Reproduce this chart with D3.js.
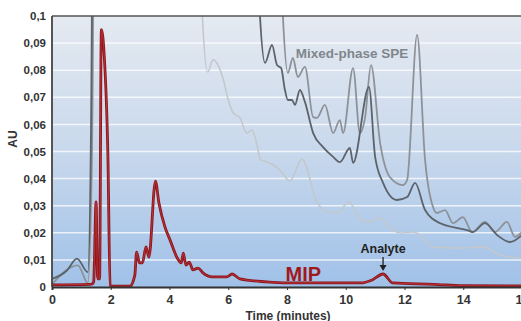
<!DOCTYPE html>
<html>
<head>
<meta charset="utf-8">
<script src="https://cdn.jsdelivr.net/npm/d3@7"></script>
<style>
  body { margin: 0; background: #fff; }
  svg text { font-family: "Liberation Sans", Arial, sans-serif; font-weight: bold; }
</style>
</head>
<body>
<svg id="canvas" width="521" height="321"></svg>
<script>
// tick values and labels
const xTicks = [0, 2, 4, 6, 8, 10, 12, 14, 16];
const yTicks = [0, 0.01, 0.02, 0.03, 0.04, 0.05, 0.06, 0.07, 0.08, 0.09, 0.1];
const yTickLabels = ["0", "0,01", "0,02", "0,03", "0,04", "0,05", "0,06", "0,07", "0,08", "0,09", "0,1"];

// MIP trace (time in minutes, AU)
const mipTime = [0, 1.3, 1.38, 1.42, 1.5, 1.55, 1.58, 1.62, 1.68, 1.78, 1.9, 1.98, 2.05, 2.65, 2.82, 2.88, 2.98, 3.08, 3.2, 3.3, 3.52, 3.64, 3.85, 4.02, 4.25, 4.4, 4.47, 4.56, 4.67, 4.8, 4.97, 5.14, 5.45, 5.95, 6.13, 6.4, 7.3, 8, 10.5, 10.9, 11.27, 11.6, 13, 14, 16];
const mipAU = [0.0008, 0.001, 0.0012, 0.002, 0.0314, 0.004, 0.003, 0.003, 0.095, 0.085, 0.05, 0.0005, 0.0003, 0.0003, 0.0044, 0.0129, 0.0089, 0.0089, 0.0148, 0.011, 0.0391, 0.031, 0.022, 0.0173, 0.011, 0.0089, 0.0125, 0.0081, 0.0092, 0.0063, 0.007, 0.0052, 0.0037, 0.0037, 0.0048, 0.003, 0.0019, 0.0015, 0.0015, 0.0026, 0.0048, 0.0015, 0.001, 0.0005, 0.0004];

// mixed-phase SPE traces
const lightTime = [0, 1.3, 1.36, 1.46, 5.0, 5.12, 5.3, 5.48, 5.82, 6.0, 6.17, 6.4, 6.63, 6.81, 6.98, 7.1, 7.33, 7.76, 8.1, 8.51, 9.02, 9.36, 9.7, 10.11, 10.5, 10.83, 11.13, 11.6, 11.85, 12.29, 12.42, 12.97, 13.79, 14.67, 15.25, 16];
const lightAU = [0.0005, 0.001, 0.04, 0.15, 0.15, 0.1, 0.0793, 0.0838, 0.077, 0.069, 0.0642, 0.0624, 0.0568, 0.0579, 0.0524, 0.0469, 0.0461, 0.0432, 0.0391, 0.0472, 0.0314, 0.0277, 0.0273, 0.0314, 0.0247, 0.024, 0.0255, 0.021, 0.0199, 0.0203, 0.0199, 0.0148, 0.0144, 0.0148, 0.0118, 0.0106];

const midTime = [0, 0.88, 1.22, 1.36, 1.44, 7.7, 7.86, 8.03, 8.2, 8.37, 8.61, 8.89, 9.02, 9.29, 9.57, 9.8, 9.91, 10.25, 10.48, 10.66, 10.86, 11.17, 11.5, 11.95, 12.09, 12.43, 12.7, 12.97, 13.1, 13.38, 13.65, 13.99, 14.3, 14.74, 15.08, 15.49, 15.76, 16];
const midAU = [0.001, 0.008, 0.0015, 0.05, 0.15, 0.15, 0.1, 0.079, 0.0845, 0.0775, 0.0812, 0.0627, 0.0624, 0.0672, 0.0568, 0.0616, 0.0568, 0.0808, 0.0568, 0.0627, 0.0819, 0.0531, 0.0406, 0.0376, 0.0395, 0.093, 0.0469, 0.0295, 0.0273, 0.0284, 0.0236, 0.0258, 0.0203, 0.024, 0.0203, 0.024, 0.0185, 0.0203];

const darkTime = [0, 0.5, 0.85, 1.22, 1.33, 1.4, 6.9, 7.08, 7.25, 7.49, 7.66, 7.8, 7.93, 8.03, 8.17, 8.27, 8.44, 8.61, 8.89, 9.22, 9.57, 9.8, 10.14, 10.25, 10.79, 11.0, 11.27, 11.74, 12.09, 12.36, 12.7, 13.2, 14.13, 14.33, 14.74, 15.15, 15.59, 16];
const darkAU = [0.003, 0.006, 0.0105, 0.0055, 0.06, 0.15, 0.15, 0.1, 0.0827, 0.0893, 0.0819, 0.0808, 0.0727, 0.069, 0.069, 0.0672, 0.0727, 0.0683, 0.0568, 0.0517, 0.048, 0.0461, 0.0513, 0.0458, 0.0738, 0.048, 0.0384, 0.0321, 0.0332, 0.0384, 0.0284, 0.0236, 0.021, 0.0203, 0.0236, 0.0192, 0.0166, 0.0192];

const svg = d3.select("svg#canvas");
const mLeft = 52, mRight = 521, mTop = 16, mBottom = 287;

const x = d3.scaleLinear().domain([0, 16]).range([mLeft, 522]);
const y = d3.scaleLinear().domain([0, 0.1]).range([mBottom, mTop]);

const defs = svg.append("defs");
const grad = defs.append("linearGradient").attr("id", "bg").attr("x1", 0).attr("y1", 0).attr("x2", 0).attr("y2", 1);
grad.append("stop").attr("offset", "0%").attr("stop-color", "#e5eaf1");
grad.append("stop").attr("offset", "50%").attr("stop-color", "#c8d8ec");
grad.append("stop").attr("offset", "100%").attr("stop-color", "#a0c1e8");
defs.append("clipPath").attr("id", "plot")
  .append("rect").attr("x", mLeft).attr("y", mTop).attr("width", mRight - mLeft).attr("height", mBottom - mTop);

svg.append("rect")
  .attr("x", mLeft).attr("y", mTop)
  .attr("width", mRight - mLeft).attr("height", mBottom - mTop)
  .attr("fill", "url(#bg)");

// white grid lines
svg.append("g")
  .selectAll("line")
  .data(yTicks.filter((d) => d > 0 && d < 0.1))
  .enter()
  .append("line")
  .attr("x1", mLeft).attr("x2", mRight)
  .attr("y1", (d) => y(d)).attr("y2", (d) => y(d))
  .attr("stroke", "#fff").attr("stroke-opacity", 0.75).attr("stroke-width", 1.5);

const line = d3.line()
  .x((d) => x(d[0]))
  .y((d) => y(d[1]))
  .curve(d3.curveMonotoneX);

const traces = [
  { t: lightTime, v: lightAU, color: "#c3c8cd", w: 1.6 },
  { t: midTime, v: midAU, color: "#8d9298", w: 1.8 },
  { t: darkTime, v: darkAU, color: "#5c636a", w: 1.8 },
];

const plot = svg.append("g").attr("clip-path", "url(#plot)");

traces.forEach((tr) => {
  plot.append("path")
    .datum(tr.t.map((t, i) => [t, tr.v[i]]))
    .attr("fill", "none")
    .attr("stroke", tr.color)
    .attr("stroke-width", tr.w)
    .attr("stroke-linejoin", "round")
    .attr("d", line);
});

// MIP trace: dark red with lighter core
const mip = mipTime.map((t, i) => [t, mipAU[i]]);
plot.append("path").datum(mip)
  .attr("fill", "none").attr("stroke", "#8a161c").attr("stroke-width", 2.8)
  .attr("stroke-linejoin", "round").attr("d", line);
plot.append("path").datum(mip)
  .attr("fill", "none").attr("stroke", "#c0343b").attr("stroke-width", 0.9)
  .attr("stroke-linejoin", "round").attr("d", line);

// frame
svg.append("line").attr("x1", mLeft).attr("x2", mRight).attr("y1", mTop).attr("y2", mTop)
  .attr("stroke", "#555").attr("stroke-width", 1.5);
svg.append("line").attr("x1", mLeft).attr("x2", mLeft).attr("y1", mTop).attr("y2", mBottom)
  .attr("stroke", "#444").attr("stroke-width", 1.8);

// axes
const yAxis = svg.append("g")
  .attr("transform", `translate(${mLeft},0)`)
  .call(d3.axisLeft(y).tickValues(yTicks).tickSize(0).tickPadding(6)
    .tickFormat((d, i) => yTickLabels[i]));
yAxis.select(".domain").remove();
yAxis.selectAll("text").attr("font-size", 11.5).attr("fill", "#333");

const xAxis = svg.append("g")
  .attr("transform", `translate(0,${mBottom})`)
  .call(d3.axisBottom(x).tickValues(xTicks).tickSize(3).tickPadding(5).tickFormat(d3.format("d")));
xAxis.select(".domain").attr("stroke", "#333").attr("stroke-width", 2);
xAxis.selectAll(".tick line").attr("stroke", "#333");
xAxis.selectAll("text").attr("font-size", 12.5).attr("fill", "#333");

svg.append("text")
  .attr("transform", "translate(17,139) rotate(-90)")
  .attr("text-anchor", "middle")
  .attr("font-size", 12).attr("fill", "#333")
  .text("AU");

svg.append("text")
  .attr("x", 288).attr("y", 319.5)
  .attr("text-anchor", "middle")
  .attr("font-size", 12).attr("fill", "#333")
  .text("Time (minutes)");

// annotations
svg.append("text")
  .attr("x", x(8.3)).attr("y", 58)
  .attr("font-size", 13.5).attr("fill", "#80868c")
  .text("Mixed-phase SPE");

svg.append("text")
  .attr("x", x(7.95)).attr("y", 281)
  .attr("font-size", 20).attr("fill", "#a0191f")
  .text("MIP");

svg.append("text")
  .attr("x", x(11.27)).attr("y", 253)
  .attr("text-anchor", "middle")
  .attr("font-size", 12.5).attr("fill", "#222")
  .text("Analyte");

svg.append("line")
  .attr("x1", x(11.27)).attr("x2", x(11.27))
  .attr("y1", 257).attr("y2", 266)
  .attr("stroke", "#222").attr("stroke-width", 1.3);
svg.append("path")
  .attr("d", d3.line()([[x(11.27) - 3.5, 265], [x(11.27) + 3.5, 265], [x(11.27), 271]]))
  .attr("fill", "#222");
</script>
</body>
</html>
